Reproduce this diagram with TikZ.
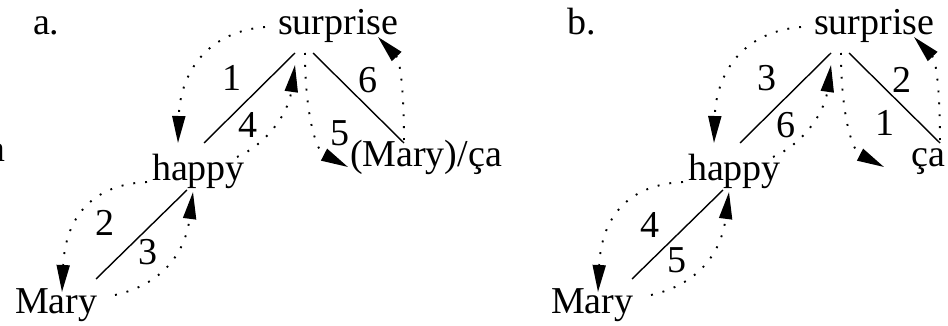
\documentclass[tikz,border=0pt]{standalone}
\usepackage{fontspec}
\setmainfont{Liberation Serif}
\usetikzlibrary{arrows.meta,calc}
\begin{document}
\begin{tikzpicture}[x=1pt,y=-1pt,
  lbl/.style={font=\fontsize{38}{46}\selectfont, inner sep=0pt, outer sep=0pt},
  tree/.style={line width=1.4pt},
  walk/.style={line width=1.9pt, dash pattern=on 1.9pt off 10pt, -{Triangle[length=27pt,width=13pt]}},
]
\useasboundingbox (0,0) rectangle (948,326);
\node[lbl, anchor=base east] (cut) at (5,162) {a};

% ---------- panel a ----------
\node[lbl, anchor=base west] (ta) at (33,35) {a.};
\node[lbl, anchor=base west] (sa) at (278,35) {surprise};
\node[lbl, anchor=base west] (ha) at (152,180) {happy};
\node[lbl, anchor=base west] (ma) at (15,313) {Mary};
\node[lbl, anchor=base west] (ca) at (350,167) {(Mary)/ça};

\draw[tree] ($(ha.base west)+(52,-37)$) -- ($(sa.base west)+(17,18)$);
\draw[tree] ($(sa.base west)+(35,18)$) -- ($(ca.base west)+(54,-24)$);
\draw[tree] ($(ha.base west)+(35,10)$) -- ($(ma.base west)+(81,-34)$);

\draw[walk] ($(sa.base west)+(-13,-8)$) .. controls +(-60,5) and +(2,-68) .. ($(ha.base west)+(26,-37)$);
\draw[walk] ($(ha.base west)+(-5,2)$) .. controls +(-62,3) and +(3,-67) .. ($(ma.base west)+(47,-21)$);
\draw[walk] ($(ma.base west)+(100,-18)$) .. controls +(45,-10) and +(-8,63) .. ($(ha.base west)+(41,12)$);
\draw[walk] ($(ha.base west)+(85,-23)$) .. controls +(28,-12) and +(-7,50) .. ($(sa.base west)+(17,30)$);
\draw[walk] ($(sa.base west)+(27,18)$) .. controls +(0,57) and +(-33,-17) .. ($(ca.base west)+(-2,0)$);
\draw[walk] ($(ca.base west)+(54,-27)$) .. controls +(0,-50) and +(22,23) .. ($(sa.base west)+(100,2)$);

\node[lbl] (a1) at (232,78) {1};
\node[lbl] (a4) at (248,125) {4};
\node[lbl] (a6) at (368,80) {6};
\node[lbl] (a5) at (340,133) {5};
\node[lbl] (a2) at (105,223) {2};
\node[lbl] (a3) at (148,252) {3};

% ---------- panel b ----------
\begin{scope}[xshift=536pt]
\node[lbl, anchor=base west] (tb) at (31,35) {b.};
\node[lbl, anchor=base west] (sb) at (278,35) {surprise};
\node[lbl, anchor=base west] (hb) at (152,180) {happy};
\node[lbl, anchor=base west] (mb) at (15,313) {Mary};
\node[lbl, anchor=base east] (cb) at (409,167) {ça};

\draw[tree] ($(hb.base west)+(52,-37)$) -- ($(sb.base west)+(17,18)$);
\draw[tree] ($(sb.base west)+(35,18)$) -- ($(cb.base east)+(-5,-24)$);
\draw[tree] ($(hb.base west)+(35,10)$) -- ($(mb.base west)+(81,-34)$);

\draw[walk] ($(sb.base west)+(-13,-8)$) .. controls +(-60,5) and +(2,-68) .. ($(hb.base west)+(26,-37)$);
\draw[walk] ($(hb.base west)+(-5,2)$) .. controls +(-62,3) and +(3,-67) .. ($(mb.base west)+(47,-21)$);
\draw[walk] ($(mb.base west)+(100,-18)$) .. controls +(45,-10) and +(-8,63) .. ($(hb.base west)+(41,12)$);
\draw[walk] ($(hb.base west)+(85,-23)$) .. controls +(28,-12) and +(-7,50) .. ($(sb.base west)+(17,30)$);
\draw[walk] ($(sb.base west)+(27,18)$) .. controls +(0,57) and +(-33,-17) .. ($(cb.base east)+(-61,0)$);
\draw[walk] ($(cb.base east)+(-5,-27)$) .. controls +(0,-50) and +(22,23) .. ($(sb.base west)+(100,2)$);

\node[lbl] (b3) at (231,78) {3};
\node[lbl] (b6) at (250,125) {6};
\node[lbl] (b2) at (366,80) {2};
\node[lbl] (b1) at (349,123) {1};
\node[lbl] (b4) at (114,225) {4};
\node[lbl] (b5) at (141,260) {5};
\end{scope}
\end{tikzpicture}
\end{document}
